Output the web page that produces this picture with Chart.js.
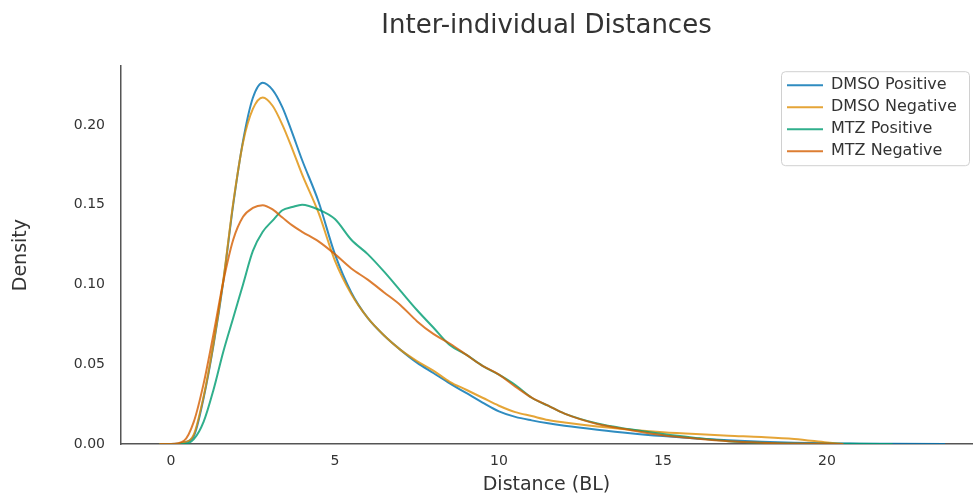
<!DOCTYPE html>
<html>
<head>
<meta charset="utf-8">
<title>Inter-individual Distances</title>
<script src="https://cdn.jsdelivr.net/npm/chart.js@4.4.1/dist/chart.umd.min.js"></script>
<style>
  html, body { margin: 0; padding: 0; background: #fff; }
  #wrap { width: 974px; height: 495px; position: relative; }
</style>
</head>
<body>
<div id="wrap"><canvas id="chart"></canvas></div>
<script>
// Distance grid (body lengths) on which the density curves are sampled
const distance = [-0.35, 0, 0.4, 0.7, 1.0, 1.3, 1.6, 1.9, 2.2, 2.5, 2.8, 3.1, 3.4, 3.7, 4.0, 4.5, 5.0, 5.5, 6.0, 6.5,
                  7.0, 7.5, 8.0, 8.5, 9.0, 9.5, 10, 10.5, 11, 11.5, 12, 13, 14, 15, 16, 17, 18, 19, 20, 20.5,
                  21, 22, 23.6];

// Kernel density estimates per group
const dmsoPositive = [0, 0, 0.001, 0.005, 0.029, 0.062, 0.102, 0.150, 0.190, 0.217, 0.2265, 0.222, 0.211, 0.195, 0.178, 0.152, 0.119, 0.095, 0.079, 0.068,
                      0.059, 0.051, 0.0445, 0.038, 0.032, 0.026, 0.0205, 0.017, 0.0148, 0.013, 0.0115, 0.009, 0.0068, 0.005, 0.0035, 0.0023, 0.0014, 0.0008, 0.0004, 0.0003,
                      0.0002, 0.0001, 0];
const dmsoNegative = [0, 0, 0.001, 0.006, 0.030, 0.063, 0.103, 0.151, 0.189, 0.210, 0.2172, 0.212, 0.200, 0.185, 0.169, 0.145, 0.115, 0.094, 0.079, 0.068,
                      0.059, 0.052, 0.046, 0.039, 0.034, 0.029, 0.024, 0.020, 0.0175, 0.015, 0.0135, 0.011, 0.009, 0.0074, 0.0062, 0.0052, 0.0044, 0.0032, 0.0010, 0,
                      null, null, null];
const mtzPositive  = [0, 0, 0, 0.003, 0.014, 0.034, 0.058, 0.079, 0.100, 0.121, 0.133, 0.140, 0.1465, 0.1485, 0.150, 0.147, 0.141, 0.128, 0.119, 0.108,
                      0.096, 0.084, 0.073, 0.062, 0.056, 0.049, 0.0435, 0.037, 0.029, 0.024, 0.019, 0.0128, 0.0092, 0.0062, 0.0038, 0.0018, 0.0008, 0.0003, 0.0001, 0.0001,
                      0.0001, 0, null];
const mtzNegative  = [0, 0, 0.002, 0.014, 0.038, 0.069, 0.102, 0.128, 0.1424, 0.148, 0.1497, 0.147, 0.142, 0.137, 0.133, 0.127, 0.119, 0.110, 0.103, 0.095,
                      0.087, 0.077, 0.069, 0.063, 0.056, 0.049, 0.0435, 0.036, 0.029, 0.024, 0.019, 0.0125, 0.0088, 0.0055, 0.0034, 0.0017, 0.0008, 0.0003, 0.0001, 0,
                      null, null, null];

const seriesNames = ['DMSO Positive', 'DMSO Negative', 'MTZ Positive', 'MTZ Negative'];
const seriesValues = [dmsoPositive, dmsoNegative, mtzPositive, mtzNegative];
const seriesColors = ['rgba(1,115,178,0.82)', 'rgba(222,143,5,0.8)', 'rgba(2,158,115,0.82)', 'rgba(213,94,0,0.8)'];

// Tick values shown on each axis
const xTicks = [0, 5, 10, 15, 20];
const yTicks = [0, 0.05, 0.10, 0.15, 0.20];

const FONT = 'DejaVu Sans';
const TEXT = '#333333';

function toPoints(values) {
  const pts = [];
  values.forEach((v, i) => { if (v !== null) pts.push({ x: distance[i], y: v }); });
  return pts;
}

const datasets = seriesNames.map((name, i) => ({
  label: name,
  data: toPoints(seriesValues[i]),
  borderColor: seriesColors[i],
  backgroundColor: seriesColors[i],
  borderWidth: 2,
  pointRadius: 0,
  cubicInterpolationMode: 'monotone',
  fill: false,
  order: seriesNames.length - i   // later groups are painted over earlier ones
}));

// Places the legend in the upper-right corner of the plot and frames it
const legendInPlot = {
  id: 'legendInPlot',
  afterLayout(chart) {
    const lg = chart.legend, ca = chart.chartArea;
    if (!lg) return;
    const w = lg.width, h = lg.height;
    lg.left = ca.right - 191;
    lg.right = lg.left + w;
    lg.top = ca.top + 5;
    lg.bottom = lg.top + h;
  },
  beforeDraw(chart) {
    const lg = chart.legend, ca = chart.chartArea;
    if (!lg) return;
    const lab = lg.options.labels;
    const n = lg.legendItems ? lg.legendItems.length : 0;
    const boxH = lab.padding + n * (lab.font.size + lab.padding);
    const ctx = chart.ctx;
    ctx.save();
    ctx.beginPath();
    ctx.roundRect(lg.left + 0.5, lg.top + 0.5, ca.right - 3 - lg.left, boxH, 4);
    ctx.fillStyle = 'rgba(255,255,255,0.85)';
    ctx.fill();
    ctx.strokeStyle = '#d0d0d0';
    ctx.lineWidth = 1;
    ctx.stroke();
    ctx.restore();
  }
};

new Chart(document.getElementById('chart'), {
  type: 'line',
  data: { datasets },
  plugins: [legendInPlot],
  options: {
    responsive: true,
    maintainAspectRatio: false,
    animation: false,
    layout: { padding: { left: 0, right: 2, top: 0, bottom: 0 } },
    plugins: {
      title: {
        display: true,
        fullSize: false,
        text: 'Inter-individual Distances',
        color: TEXT,
        font: { family: FONT, size: 26, weight: 'normal' },
        padding: { top: 11, bottom: 24 }
      },
      legend: {
        position: 'chartArea',
        align: 'start',
        labels: {
          color: TEXT,
          font: { family: FONT, size: 16 },
          usePointStyle: true,
          pointStyle: 'line',
          pointStyleWidth: 36,
          padding: 6,
          sort: (a, b) => a.datasetIndex - b.datasetIndex
        }
      },
      tooltip: { enabled: false }
    },
    scales: {
      x: {
        type: 'linear',
        min: -1.52,
        max: 24.42,
        grid: { display: false, drawTicks: false },
        border: { display: true, color: '#555555', width: 1.5 },
        afterBuildTicks(scale) { scale.ticks = xTicks.map(v => ({ value: v })); },
        afterFit(scale) { scale.height = 51; },
        ticks: {
          color: TEXT,
          padding: 9,
          maxRotation: 0,
          font: { family: FONT, size: 14 },
          callback: v => String(v)
        },
        title: {
          display: true,
          text: 'Distance (BL)',
          color: TEXT,
          font: { family: FONT, size: 19 },
          padding: { top: 0, bottom: -1 }
        }
      },
      y: {
        min: 0,
        max: 0.2368,
        grid: { display: false, drawTicks: false },
        border: { display: true, color: '#555555', width: 1.5 },
        afterBuildTicks(scale) { scale.ticks = yTicks.map(v => ({ value: v })); },
        afterFit(scale) { scale.width = 121; },
        ticks: {
          color: TEXT,
          padding: 16,
          font: { family: FONT, size: 14 },
          callback: v => Number(v).toFixed(2)
        },
        title: {
          display: true,
          text: 'Density',
          color: TEXT,
          font: { family: FONT, size: 19 },
          padding: { top: 10, bottom: 0 }
        }
      }
    }
  }
});
</script>
</body>
</html>
